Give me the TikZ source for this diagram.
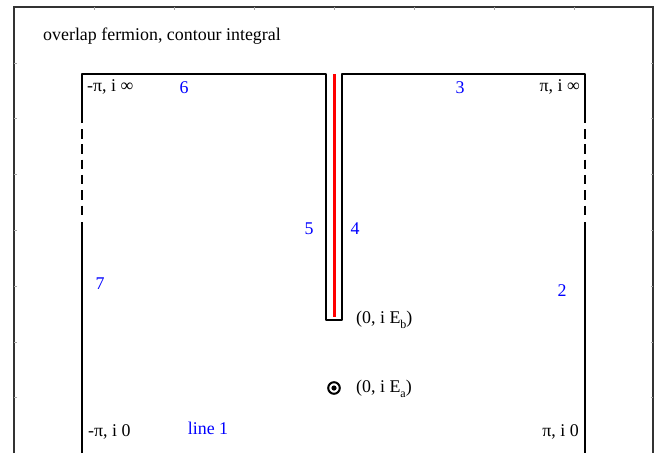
\documentclass[tikz,border=0pt]{standalone}
\usepackage{fontspec}
\setmainfont{Liberation Serif}

\tikzset{
  lbl/.style={inner sep=0pt, font=\fontsize{17.9}{20}\selectfont},
  seg/.style={lbl, text=blue},
  contour/.style={line width=2pt, line join=round},
}
\newcommand{\subsc}[1]{\raisebox{-0.55ex}{\fontsize{12}{14}\selectfont #1}}

\begin{document}
\begin{tikzpicture}[x=1pt, y=-1pt]
    \useasboundingbox (0,0) rectangle (669,453);

    % Frame
    \draw[line width=1.3pt, black!80] (14,453) -- (14,7) -- (653,7) -- (653,453);
    \foreach \y in {62.8,118.6,174.4,230.2,286,341.8,397.6} {
        \draw[black!35, line width=0.5pt] (14,\y) -- (16.5,\y);
        \draw[black!35, line width=0.5pt] (653,\y) -- (650.5,\y);
    }
    \foreach \x in {94,174,254,334,414,494,574} {
        \draw[black!35, line width=0.5pt] (\x,7) -- (\x,9.5);
    }

    % Contour
    \draw[contour] (82,453) -- (82,222);
    \draw[contour, dash pattern=on 9.5pt off 5.8pt] (82,129) -- (82,216);
    \draw[contour] (82,123) -- (82,74) -- (326,74) -- (326,320) -- (342,320)
        -- (342,74) -- (585,74) -- (585,123);
    \draw[contour, dash pattern=on 9.5pt off 5.8pt] (585,129) -- (585,216);
    \draw[contour] (585,222) -- (585,453);

    % Branch cut
    \draw[red, line width=3pt] (334,74) -- (334,316.5);

    % Pole
    \draw[line width=2pt] (334,388) circle (5.8);
    \fill (334,388) circle (2.6);

    % Title
    \node[lbl, anchor=west] (title) at (43,36) {overlap fermion, contour integral};

    % Corner labels
    \node[lbl, anchor=west] (tl) at (87,87) {-π, i ∞};
    \node[lbl, anchor=east] (tr) at (580,87) {π, i ∞};
    \node[lbl, anchor=west] (bl) at (88,432) {-π, i 0};
    \node[lbl, anchor=east] (br) at (579,432) {π, i 0};

    % Points
    \node[lbl, anchor=west] (eb) at (356,320) {(0, i E\subsc{b})};
    \node[lbl, anchor=west] (ea) at (356,389) {(0, i E\subsc{a})};

    % Segment numbers
    \node[seg] (s1) at (208,428) {line 1};
    \node[seg] (s2) at (562,291) {2};
    \node[seg] (s3) at (460,88) {3};
    \node[seg] (s4) at (355,229) {4};
    \node[seg] (s5) at (309,229) {5};
    \node[seg] (s6) at (184,88) {6};
    \node[seg] (s7) at (100,284) {7};
\end{tikzpicture}
\end{document}
